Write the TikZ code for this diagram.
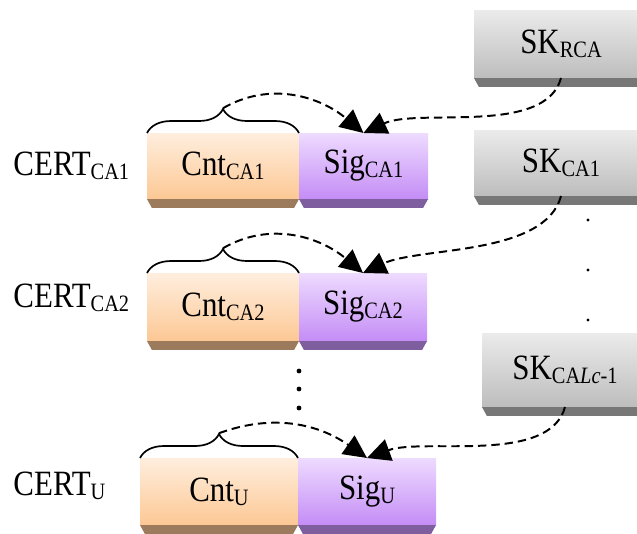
\documentclass[tikz,border=0pt]{standalone}
\usepackage{fontspec}
\setmainfont{Liberation Serif}
\usetikzlibrary{positioning,arrows.meta,decorations.pathreplacing}

\definecolor{cntTop}{HTML}{FFEEDE}
\definecolor{cntBot}{HTML}{FCC894}
\definecolor{cntSide}{HTML}{9C7B5C}
\definecolor{sigTop}{HTML}{EEDBFF}
\definecolor{sigBot}{HTML}{C48DF6}
\definecolor{sigSide}{HTML}{7E5E9E}
\definecolor{skTop}{HTML}{EBEBEB}
\definecolor{skBot}{HTML}{BDBDBD}
\definecolor{skSide}{HTML}{777777}

\newcommand{\sbs}[1]{\raisebox{-2.5pt}{\fontsize{14.5}{16}\selectfont #1}}
\newcommand{\tx}[1]{\scalebox{1}[1.15]{#1}}
\newcommand{\slab}[2]{%
  \fill[#2] (#1.south west) -- (#1.south east)
    -- ([xshift=-0.12cm,yshift=-0.22cm]#1.south east)
    -- ([xshift=0.12cm,yshift=-0.22cm]#1.south west) -- cycle;}

\tikzset{
  blk/.style={inner sep=0pt, outer sep=0pt, anchor=north west,
    font=\fontsize{22}{26}\selectfont},
  cnt/.style={blk, top color=cntTop, bottom color=cntBot},
  sig/.style={blk, top color=sigTop, bottom color=sigBot},
  sk/.style={blk, top color=skTop, bottom color=skBot},
  lbl/.style={inner sep=0pt, anchor=base west, font=\fontsize{22}{26}\selectfont},
  sgn/.style={dash pattern=on 6pt off 3.5pt, line width=1.4pt,
    -{Triangle[length=5.8mm,width=5.6mm]}},
  brc/.style={decorate, decoration={brace, amplitude=0.6cm}, line width=1.2pt}
}

\begin{document}
\begin{tikzpicture}
  \useasboundingbox (0,0) rectangle (15.925,-13.325);
  \clip (0,0) rectangle (15.925,-13.325);

  % certificates
  \node[cnt, minimum width=3.8cm, minimum height=1.65cm] (cnt1) at (3.675,-3.325) {\tx{Cnt\sbs{CA1}}};
  \node[sig, minimum width=3.225cm, minimum height=1.65cm, right=0pt of cnt1] (sig1) {\tx{Sig\sbs{CA1}}};
  \node[cnt, minimum width=3.8cm, minimum height=1.7cm] (cnt2) at (3.675,-6.825) {\tx{Cnt\sbs{CA2}}};
  \node[sig, minimum width=3.2cm, minimum height=1.7cm, right=0pt of cnt2] (sig2) {\tx{Sig\sbs{CA2}}};
  \node[cnt, minimum width=3.95cm, minimum height=1.675cm] (cnt3) at (3.5,-11.45) {\tx{Cnt\sbs{U}}};
  \node[sig, minimum width=3.45cm, minimum height=1.675cm, right=0pt of cnt3] (sig3) {\tx{Sig\sbs{U}}};
  \slab{cnt1}{cntSide}
  \slab{sig1}{sigSide}
  \slab{cnt2}{cntSide}
  \slab{sig2}{sigSide}
  \slab{cnt3}{cntSide}
  \slab{sig3}{sigSide}

  \node[lbl] (cert1) at (0.33,-4.375) {\tx{CERT\sbs{CA1}}};
  \node[lbl] (cert2) at (0.33,-7.675) {\tx{CERT\sbs{CA2}}};
  \node[lbl] (cert3) at (0.33,-12.375) {\tx{CERT\sbs{U}}};

  % signing keys
  \node[sk, minimum width=4.35cm, minimum height=1.7cm] (skR) at (11.85,-0.25) {\tx{SK\sbs{RCA}}};
  \node[sk, minimum width=4.35cm, minimum height=1.65cm] (skA) at (11.85,-3.25) {\tx{SK\sbs{CA1}}};
  \node[sk, minimum width=4.15cm, minimum height=1.85cm] (skL) at (12.05,-8.325) {\tx{SK\sbs{CA\textit{Lc}-1}}};
  \slab{skR}{skSide}
  \slab{skA}{skSide}
  \slab{skL}{skSide}

  % braces
  \draw[brc] (cnt1.north west) -- (cnt1.north east);
  \draw[brc] (cnt2.north west) -- (cnt2.north east);
  \draw[brc] (cnt3.north west) -- (cnt3.north east);
  \coordinate (tip1) at ([yshift=0.62cm]cnt1.north);
  \coordinate (tip2) at ([yshift=0.62cm]cnt2.north);
  \coordinate (tip3) at ([yshift=0.62cm]cnt3.north);

  % signatures
  \draw[sgn] (tip1) to[out=30, in=140] (sig1.north);
  \draw[sgn] (tip2) to[out=30, in=140] (sig2.north);
  \draw[sgn] (tip3) to[out=20, in=145] (sig3.north);
  \draw[sgn] (skR.south) to[out=-105, in=25, looseness=0.75] (sig1.north);
  \draw[sgn] (skA.south) to[out=-105, in=25, looseness=0.75] (sig2.north);
  \draw[sgn] (skL.south) to[out=-105, in=20, looseness=0.75] (sig3.north);

  % dots
  \foreach \y in {9.275,9.725,10.2}
    \fill (7.475,-\y) circle (0.06);
  \foreach \y in {5.5,6.75,8.0}
    \fill (14.7,-\y) circle (0.04);
\end{tikzpicture}
\end{document}
